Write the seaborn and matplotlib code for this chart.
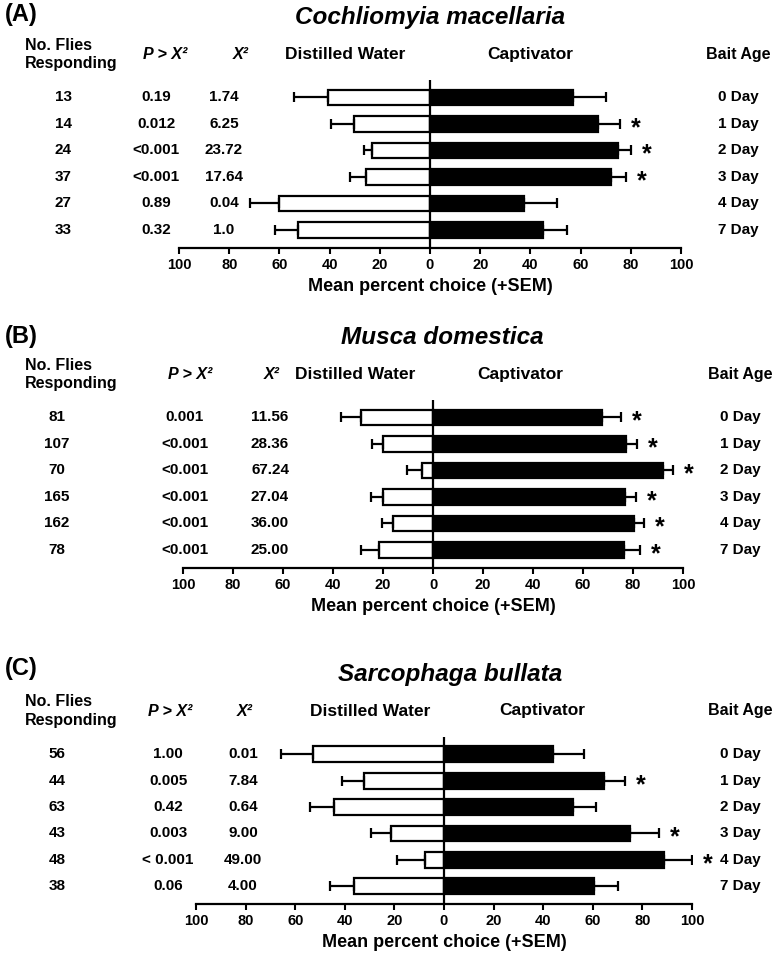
import numpy as np
import pandas as pd
import matplotlib
matplotlib.use("Agg")
import matplotlib.pyplot as plt
import seaborn as sns
from matplotlib.transforms import blended_transform_factory

# ---------------- data ----------------
days = ["0 Day", "1 Day", "2 Day", "3 Day", "4 Day", "7 Day"]

species_a = "Cochliomyia macellaria"
n_a = ["13", "14", "24", "37", "27", "33"]
p_a = ["0.19", "0.012", "<0.001", "<0.001", "0.89", "0.32"]
chi_a = ["1.74", "6.25", "23.72", "17.64", "0.04", "1.0"]
water_a = [40.6, 30.4, 23.0, 25.4, 60.1, 52.4]
water_err_a = [13.4, 9.0, 3.4, 6.6, 11.6, 9.4]
capt_a = [57.1, 67.0, 74.8, 72.0, 37.6, 45.2]
capt_err_a = [12.9, 8.8, 5.1, 6.0, 12.8, 9.4]
sig_a = [False, True, True, True, False, False]

species_b = "Musca domestica"
n_b = ["81", "107", "70", "165", "162", "78"]
p_b = ["0.001", "<0.001", "<0.001", "<0.001", "<0.001", "<0.001"]
chi_b = ["11.56", "28.36", "67.24", "27.04", "36.00", "25.00"]
water_b = [29.0, 20.0, 4.5, 20.2, 16.2, 21.6]
water_err_b = [7.9, 4.4, 5.9, 4.7, 4.2, 7.4]
capt_b = [67.6, 77.0, 92.0, 76.6, 80.3, 76.3]
capt_err_b = [7.5, 4.4, 4.0, 4.5, 4.0, 6.4]
sig_b = [True, True, True, True, True, True]

species_c = "Sarcophaga bullata"
n_c = ["56", "44", "63", "43", "48", "38"]
p_c = ["1.00", "0.005", "0.42", "0.003", "< 0.001", "0.06"]
chi_c = ["0.01", "7.84", "0.64", "9.00", "49.00", "4.00"]
water_c = [52.7, 32.1, 44.2, 21.5, 7.6, 36.1]
water_err_c = [13.0, 9.2, 9.8, 8.0, 11.2, 9.9]
capt_c = [44.0, 64.4, 52.1, 74.9, 88.7, 60.4]
capt_err_c = [12.5, 8.7, 9.1, 11.6, 11.2, 9.6]
sig_c = [False, True, False, True, True, False]

# ---------------- style ----------------
sns.set_theme(style="white", rc={"text.color": "black", "axes.labelcolor": "black",
                                 "xtick.color": "black", "axes.edgecolor": "black"})
plt.rcParams["font.family"] = ["Liberation Sans", "DejaVu Sans"]

W, H = 777, 957
fig = plt.figure(figsize=(W / 100, H / 100), dpi=100)

def fx(px):
    return px / W

def fy(py):
    return 1 - py / H

panels = [
    dict(tag="(A)", species=species_a, n=n_a, p=p_a, chi=chi_a, water=water_a, werr=water_err_a,
         capt=capt_a, cerr=capt_err_a, sig=sig_a,
         l=179, r=681, top=80, bot=248, row0=97.8, title_x=430, tag_y=15,
         xn=63, xp=156, xchi=224, hp=165, hx=241, xdw=345, xcap=530, xbait=738),
    dict(tag="(B)", species=species_b, n=n_b, p=p_b, chi=chi_b, water=water_b, werr=water_err_b,
         capt=capt_b, cerr=capt_err_b, sig=sig_b,
         l=183, r=683, top=400, bot=568, row0=417.5, title_x=442, tag_y=337,
         xn=57, xp=185, xchi=270, hp=190, hx=272, xdw=355, xcap=520, xbait=740),
    dict(tag="(C)", species=species_c, n=n_c, p=p_c, chi=chi_c, water=water_c, werr=water_err_c,
         capt=capt_c, cerr=capt_err_c, sig=sig_c,
         l=196, r=692, top=737, bot=904, row0=754, title_x=450, tag_y=668,
         xn=57, xp=168, xchi=243, hp=170, hx=245, xdw=370, xcap=542, xbait=740),
]

bold = dict(fontweight="bold")
ticks = np.arange(-100, 101, 20)

for P in panels:
    ax = fig.add_axes([fx(P["l"]), fy(P["bot"]), fx(P["r"] - P["l"]), (P["bot"] - P["top"]) / H])
    df = pd.DataFrame({"day": days,
                       "water": -np.array(P["water"]),
                       "capt": np.array(P["capt"])})
    sns.barplot(data=df, x="water", y="day", orient="h", color="white", saturation=1,
                edgecolor="black", linewidth=1.6, width=0.6, errorbar=None, ax=ax)
    sns.barplot(data=df, x="capt", y="day", orient="h", color="black", saturation=1,
                edgecolor="black", linewidth=1.6, width=0.6, errorbar=None, ax=ax)
    ypos = np.arange(len(days))
    zeros = np.zeros(len(days))
    ax.errorbar(df["water"], ypos, xerr=[P["werr"], zeros], fmt="none", ecolor="black",
                elinewidth=1.6, capsize=3.8, capthick=1.6, zorder=1)
    ax.errorbar(df["capt"], ypos, xerr=[zeros, P["cerr"]], fmt="none", ecolor="black",
                elinewidth=1.6, capsize=3.8, capthick=1.6, zorder=1)
    ax.axvline(0, color="black", lw=1.6, zorder=5)

    ax.set_xlim(-100, 100)
    ax.set_ylim(5.68, -0.66)
    ax.set_xticks(ticks)
    ax.set_xticklabels([str(abs(t)) for t in ticks], fontsize=10.5, fontweight="bold")
    ax.tick_params(axis="x", direction="out", length=4.3, width=1.5, pad=3, bottom=True)
    ax.set_yticks([])
    ax.set_ylabel("")
    ax.set_xlabel("Mean percent choice (+SEM)", fontsize=13, fontweight="bold", labelpad=4)
    for s in ["left", "right", "top"]:
        ax.spines[s].set_visible(False)
    ax.spines["bottom"].set_linewidth(1.6)
    ax.spines["bottom"].set_color("black")

    # significance stars
    for i, (c, e, s) in enumerate(zip(P["capt"], P["cerr"], P["sig"])):
        if s:
            ax.annotate("*", xy=(c + e, i), xytext=(11.5, -3), textcoords="offset points",
                        ha="center", va="center", fontsize=18, **bold)

    # row table
    trans = blended_transform_factory(fig.transFigure, ax.transData)
    for i in range(len(days)):
        ax.text(fx(P["xn"]), i, P["n"][i], transform=trans, ha="center", va="center", fontsize=11, **bold)
        ax.text(fx(P["xp"]), i, P["p"][i], transform=trans, ha="center", va="center", fontsize=11, **bold)
        ax.text(fx(P["xchi"]), i, P["chi"][i], transform=trans, ha="center", va="center", fontsize=11, **bold)
        ax.text(fx(P["xbait"]), i, days[i], transform=trans, ha="center", va="center", fontsize=11, **bold)

    # headers
    r0 = P["row0"]
    fig.text(fx(5), fy(P["tag_y"]), P["tag"], ha="left", va="center", fontsize=17, **bold)
    fig.text(fx(P["title_x"]), fy(r0 - 80), P["species"], ha="center", va="center",
             fontsize=17.5, fontweight="bold", fontstyle="italic")
    fig.text(fx(25), fy(r0 - 52), "No. Flies", ha="left", va="center", fontsize=11.5, **bold)
    fig.text(fx(25), fy(r0 - 34), "Responding", ha="left", va="center", fontsize=11.5, **bold)
    fig.text(fx(P["hp"]), fy(r0 - 43), "P > X\u00b2", ha="center", va="center", fontsize=11.5,
             fontweight="bold", fontstyle="italic")
    fig.text(fx(P["hx"]), fy(r0 - 43), "X\u00b2", ha="center", va="center", fontsize=11.5,
             fontweight="bold", fontstyle="italic")
    fig.text(fx(P["xdw"]), fy(r0 - 43), "Distilled Water", ha="center", va="center", fontsize=12.5, **bold)
    fig.text(fx(P["xcap"]), fy(r0 - 43), "Captivator", ha="center", va="center", fontsize=12.5, **bold)
    fig.text(fx(P["xbait"]), fy(r0 - 43), "Bait Age", ha="center", va="center", fontsize=11.5, **bold)

fig.savefig("out.png", dpi=100)
